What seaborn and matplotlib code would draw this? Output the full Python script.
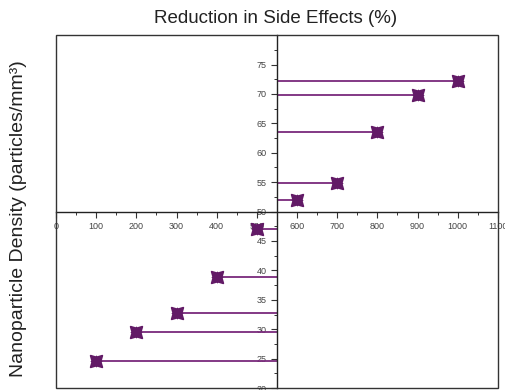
import numpy as np
import pandas as pd
import seaborn as sns
import matplotlib.pyplot as plt
from matplotlib.patches import Rectangle
from matplotlib.ticker import MultipleLocator

# reduction in side effects (%) vs nanoparticle density
reduction = [100, 200, 300, 400, 500, 600, 700, 800, 900, 1000]
density = [24.6, 29.6, 32.7, 38.9, 47.1, 52.0, 54.9, 63.5, 69.9, 72.2]

df = pd.DataFrame({"reduction": reduction, "density": density})

sns.set_style("white")
plt.rcParams['font.family'] = ['Liberation Sans', 'DejaVu Sans']

fig = plt.figure(figsize=(5.06, 3.9), dpi=100)
ax = fig.add_axes([0.1107, 0.005, 0.8733, 0.905])

line_col = "#7a2a7c"
mark_col = "#621a66"

# stems from the centre axis out to each point
ax.hlines(df.density, 550, df.reduction, color=line_col, lw=1.3, zorder=2)
sns.scatterplot(data=df, x="reduction", y="density", ax=ax, marker=(4, 1, 45),
                s=140, color=mark_col, edgecolor=mark_col, linewidth=1.3, zorder=3)
sns.scatterplot(data=df, x="reduction", y="density", ax=ax, marker=(4, 1, 0),
                s=60, color=mark_col, edgecolor=mark_col, linewidth=0.8, zorder=3)

ax.set_xlim(0, 1100)
ax.set_ylim(20, 80)

ax.spines['left'].set_position(('data', 550))
ax.spines['bottom'].set_position(('data', 50))
ax.spines['top'].set_visible(False)
ax.spines['right'].set_visible(False)
for s in ['left', 'bottom']:
    ax.spines[s].set_color('#222222')
    ax.spines[s].set_linewidth(1.0)
ax.add_patch(Rectangle((0, 0), 1, 1, transform=ax.transAxes, fill=False,
                       edgecolor='#333333', lw=1.0, clip_on=False, zorder=5))

ax.set_xticks(np.arange(0, 1101, 100))
ax.set_yticks(np.arange(20, 76, 5))
ax.xaxis.set_minor_locator(MultipleLocator(50))
ax.yaxis.set_minor_locator(MultipleLocator(2.5))
ax.tick_params(which='major', direction='out', length=4, width=0.8,
               labelsize=6.5, labelcolor='#444444', color='#333333',
               bottom=True, left=True)
ax.tick_params(which='minor', direction='out', length=2.5, width=0.7,
               color='#333333', bottom=True, left=True)

ax.set_xlabel("")
ax.set_ylabel("")
fig.text(0.545, 0.953, "Reduction in Side Effects (%)", ha='center', va='center',
         fontsize=13.5, color='#222222')
fig.text(0.036, 0.44, "Nanoparticle Density (particles/mm³)", ha='center',
         va='center', rotation=90, fontsize=14, color='#222222')

fig.savefig("out.png", dpi=100)
